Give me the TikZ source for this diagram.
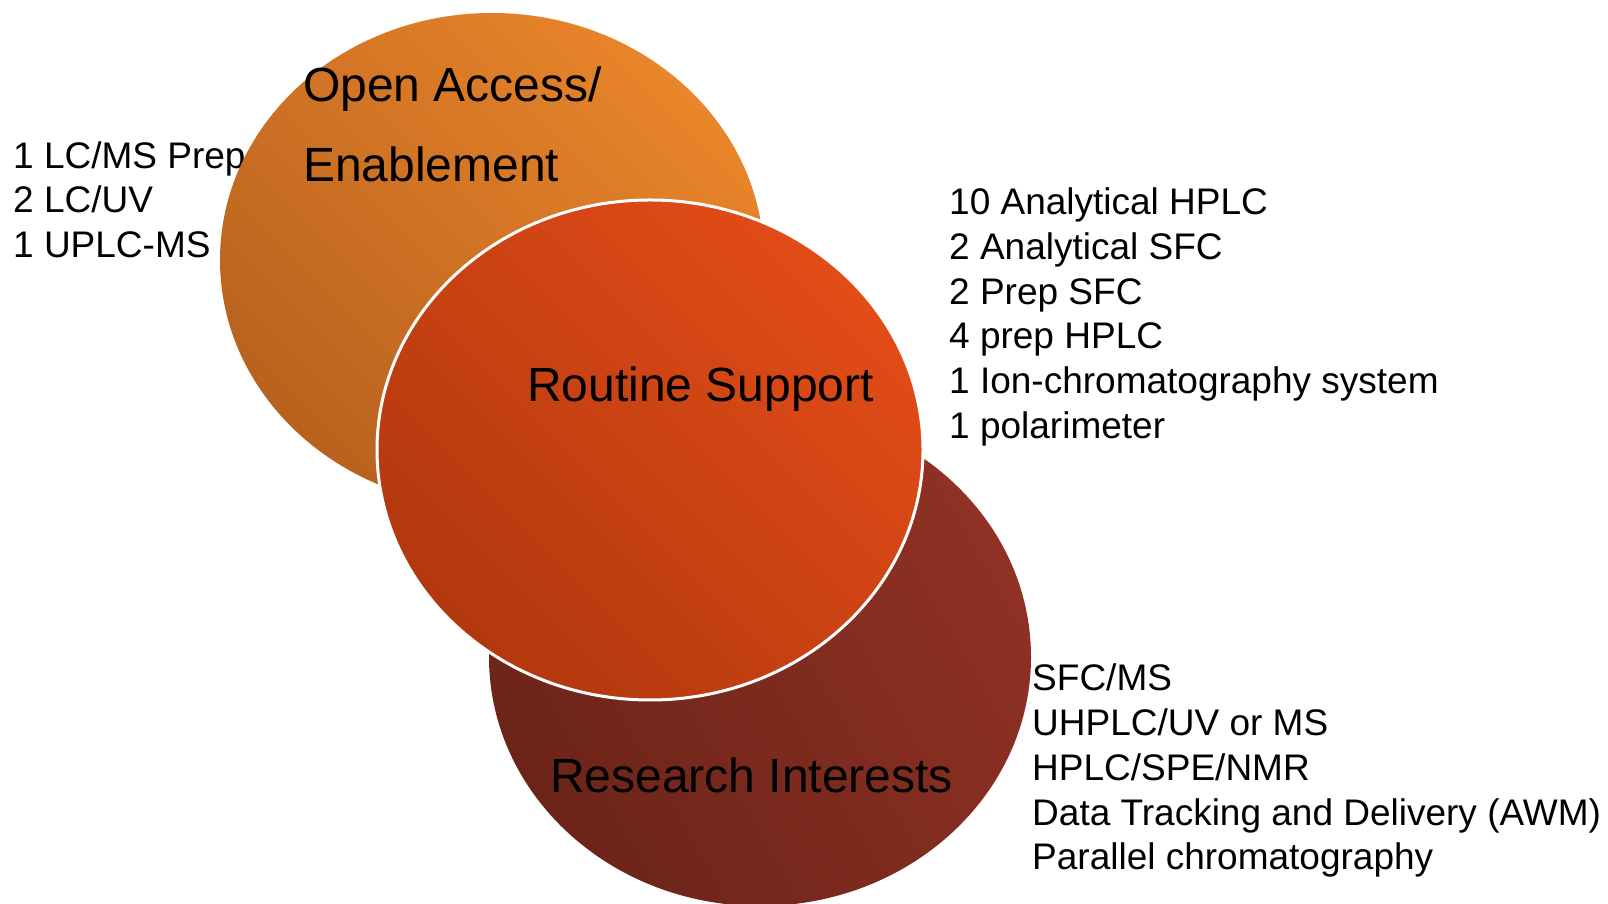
\documentclass[tikz,border=0pt]{standalone}
\usepackage{fontspec}
\setmainfont{Liberation Sans}
\usetikzlibrary{shapes.geometric}
\definecolor{orTop}{HTML}{E9852A}
\definecolor{orBot}{HTML}{B8621F}
\definecolor{rdTop}{HTML}{E24C17}
\definecolor{rdBot}{HTML}{B2380F}
\definecolor{dkTop}{HTML}{8F3124}
\definecolor{dkBot}{HTML}{6C2419}
\tikzset{
  blob/.style={ellipse, inner sep=0pt, outer sep=0pt},
  title/.style={anchor=base west, inner sep=0pt, font=\fontsize{48}{58}\selectfont, text=black},
  item/.style={anchor=base west, inner sep=0pt, font=\fontsize{37}{45}\selectfont, text=black}
}
\begin{document}
\begin{tikzpicture}[x=1pt,y=1pt]
\useasboundingbox (0,0) rectangle (1608,904);
% left list (behind the orange ellipse)
\node[item] (l1) at (13,735) {1 LC/MS Prep};
\node[item] (l2) at (13,691) {2 LC/UV};
\node[item] (l3) at (13,646) {1 UPLC-MS};
% ellipses
\node[blob, minimum width=544pt, minimum height=494pt, top color=orTop, bottom color=orBot, shading angle=-45] (open) at (492,644) {};
\node[blob, minimum width=542pt, minimum height=498pt, top color=dkTop, bottom color=dkBot, shading angle=-60] (res) at (760,247) {};
\node[blob, minimum width=546pt, minimum height=500pt, top color=rdTop, bottom color=rdBot, shading angle=-45, draw=white, line width=3pt] (rout) at (650,454) {};
% titles
\node[title] (t1a) at (303,802) {Open Access/};
\node[title] (t1b) at (303,722) {Enablement};
\node[title] (t2) at (527,502) {Routine Support};
\node[title] (t3) at (550,111) {Research Interests};
% right list
\node[item] (r1) at (949,689) {10 Analytical HPLC};
\node[item] (r2) at (949,644) {2 Analytical SFC};
\node[item] (r3) at (949,599) {2 Prep SFC};
\node[item] (r4) at (949,555) {4 prep HPLC};
\node[item] (r5) at (949,510) {1 Ion-chromatography system};
\node[item] (r6) at (949,465) {1 polarimeter};
% bottom list
\node[item] (b1) at (1032,213) {SFC/MS};
\node[item] (b2) at (1032,168) {UHPLC/UV or MS};
\node[item] (b3) at (1032,123) {HPLC/SPE/NMR};
\node[item] (b4) at (1032,78) {Data Tracking and Delivery (AWM)};
\node[item] (b5) at (1032,34) {Parallel chromatography};
\end{tikzpicture}
\end{document}
